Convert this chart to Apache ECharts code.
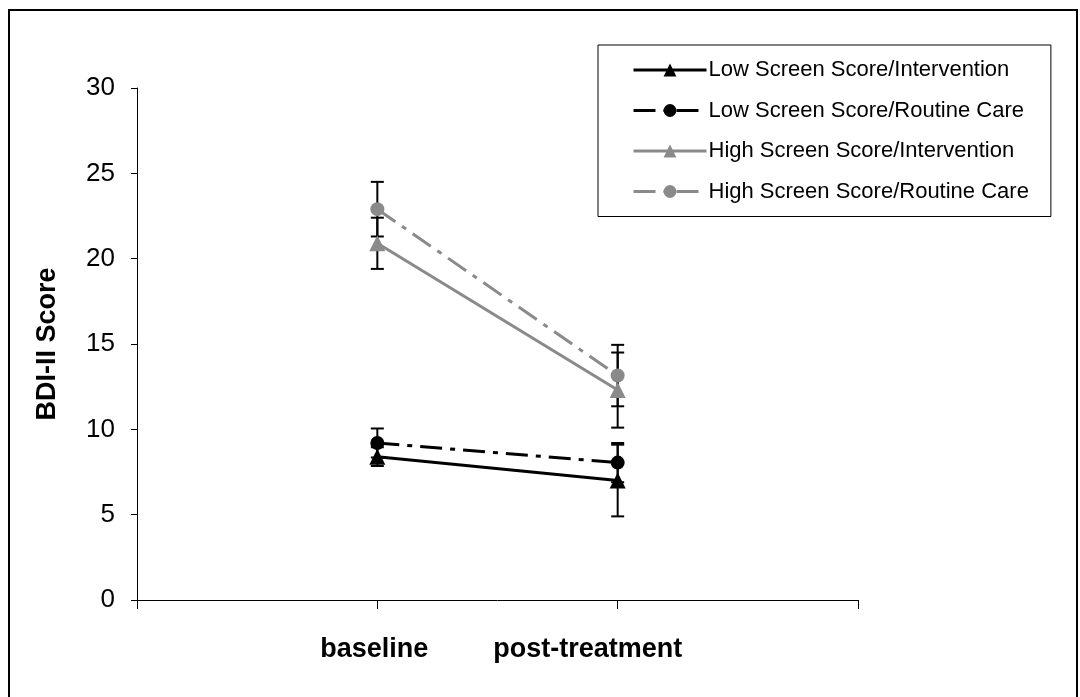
<!DOCTYPE html>
<html>
<head>
<meta charset="utf-8">
<script src="https://cdn.jsdelivr.net/npm/echarts@6/dist/echarts.min.js"></script>
<style>html,body{margin:0;padding:0;background:#fff;}#c{width:1080px;height:697px;}</style>
</head>
<body>
<div id="c"></div>
<script>
var categories = ['baseline', 'post-treatment'];
var seriesNames = ['Low Screen Score/Intervention', 'Low Screen Score/Routine Care', 'High Screen Score/Intervention', 'High Screen Score/Routine Care'];
var lowInt = [8.4, 7.0];
var lowIntErr = [0.55, 2.1];
var lowRC = [9.2, 8.05];
var lowRCErr = [0.85, 1.15];
var highInt = [20.9, 12.3];
var highIntErr = [1.5, 2.2];
var highRC = [22.9, 13.15];
var highRCErr = [1.6, 1.8];
var yTicks = [0, 5, 10, 15, 20, 25, 30];

var GRAY = '#8a8a8a';
var FONT = 'Liberation Sans, Arial, sans-serif';

function pts(vals) { return vals.map(function (v, i) { return [i + 1, v]; }); }
function errData(vals, errs) { return vals.map(function (v, i) { return [i + 1, v - errs[i], v + errs[i]]; }); }

function errSeries(vals, errs) {
  return {
    type: 'custom', z: 1, silent: true,
    renderItem: function (params, api) {
      var x = api.value(0);
      var lo = api.coord([x, api.value(1)]);
      var hi = api.coord([x, api.value(2)]);
      var w = 6.5;
      var st = { stroke: '#000', lineWidth: 2 };
      return { type: 'group', children: [
        { type: 'line', shape: { x1: lo[0], y1: lo[1], x2: hi[0], y2: hi[1] }, style: st },
        { type: 'line', shape: { x1: lo[0] - w, y1: lo[1], x2: lo[0] + w, y2: lo[1] }, style: st },
        { type: 'line', shape: { x1: hi[0] - w, y1: hi[1], x2: hi[0] + w, y2: hi[1] }, style: st }
      ] };
    },
    data: errData(vals, errs)
  };
}

function lineSeries(name, vals, color, dash, symbol, size) {
  return {
    name: name, type: 'line', z: 3, symbol: symbol, symbolSize: size,
    data: pts(vals),
    lineStyle: { color: color, width: 3, type: dash },
    itemStyle: { color: color },
    emphasis: { disabled: true }
  };
}

var dashDot = [22, 8, 5, 8];

var chart = echarts.init(document.getElementById('c'), null, { renderer: 'canvas' });
chart.setOption({
  animation: false,
  backgroundColor: '#fff',
  graphic: [
    { type: 'rect', shape: { x: 9, y: 10, width: 1068, height: 720 }, style: { fill: 'none', stroke: '#000', lineWidth: 2 }, z: 0 }
  ],
  grid: { left: 137, top: 88, right: 222, bottom: 97 },
  legend: {
    orient: 'vertical', left: 598, top: 45,
    padding: [14, 22, 14, 34],
    backgroundColor: '#fff', borderColor: '#000', borderWidth: 1,
    itemWidth: 73, itemHeight: 16, itemGap: 18.5,
    lineStyle: { width: 3 },
    textStyle: { fontFamily: FONT, fontSize: 22, color: '#000', padding: [0, 0, 0, -3] },
    data: seriesNames.map(function (n) { return { name: n }; })
  },
  xAxis: {
    type: 'value', min: 0, max: 3, interval: 1,
    axisLine: { show: true, lineStyle: { color: '#000', width: 1 } },
    axisTick: { show: true, length: 9, lineStyle: { color: '#000' } },
    splitLine: { show: false },
    axisLabel: {
      margin: 36,
      formatter: function (v) {
        if (v === 1) return '{a|' + categories[0] + '}';
        if (v === 2) return '{b|' + categories[1] + '}';
        return '';
      },
      rich: {
        a: { fontFamily: FONT, fontSize: 27, fontWeight: 'bold', color: '#000', padding: [0, 6, 0, 0] },
        b: { fontFamily: FONT, fontSize: 27, fontWeight: 'bold', color: '#000', padding: [0, 60, 0, 0] }
      }
    }
  },
  yAxis: {
    type: 'value', min: yTicks[0], max: yTicks[yTicks.length - 1], interval: 5,
    name: 'BDI-II Score', nameLocation: 'middle', nameGap: 76,
    nameTextStyle: { fontFamily: FONT, fontSize: 27, fontWeight: 'bold', color: '#000' },
    axisLine: { show: true, lineStyle: { color: '#000', width: 1 } },
    axisTick: { show: true, length: 6, lineStyle: { color: '#000' } },
    splitLine: { show: false },
    axisLabel: { fontFamily: FONT, fontSize: 26, color: '#000', margin: 22 }
  },
  series: [
    errSeries(lowInt, lowIntErr),
    errSeries(lowRC, lowRCErr),
    errSeries(highInt, highIntErr),
    errSeries(highRC, highRCErr),
    lineSeries(seriesNames[0], lowInt, '#000', 'solid', 'triangle', 16),
    lineSeries(seriesNames[1], lowRC, '#000', dashDot, 'circle', 14),
    lineSeries(seriesNames[2], highInt, GRAY, 'solid', 'triangle', 16),
    lineSeries(seriesNames[3], highRC, GRAY, dashDot, 'circle', 14)
  ]
});
</script>
</body>
</html>
